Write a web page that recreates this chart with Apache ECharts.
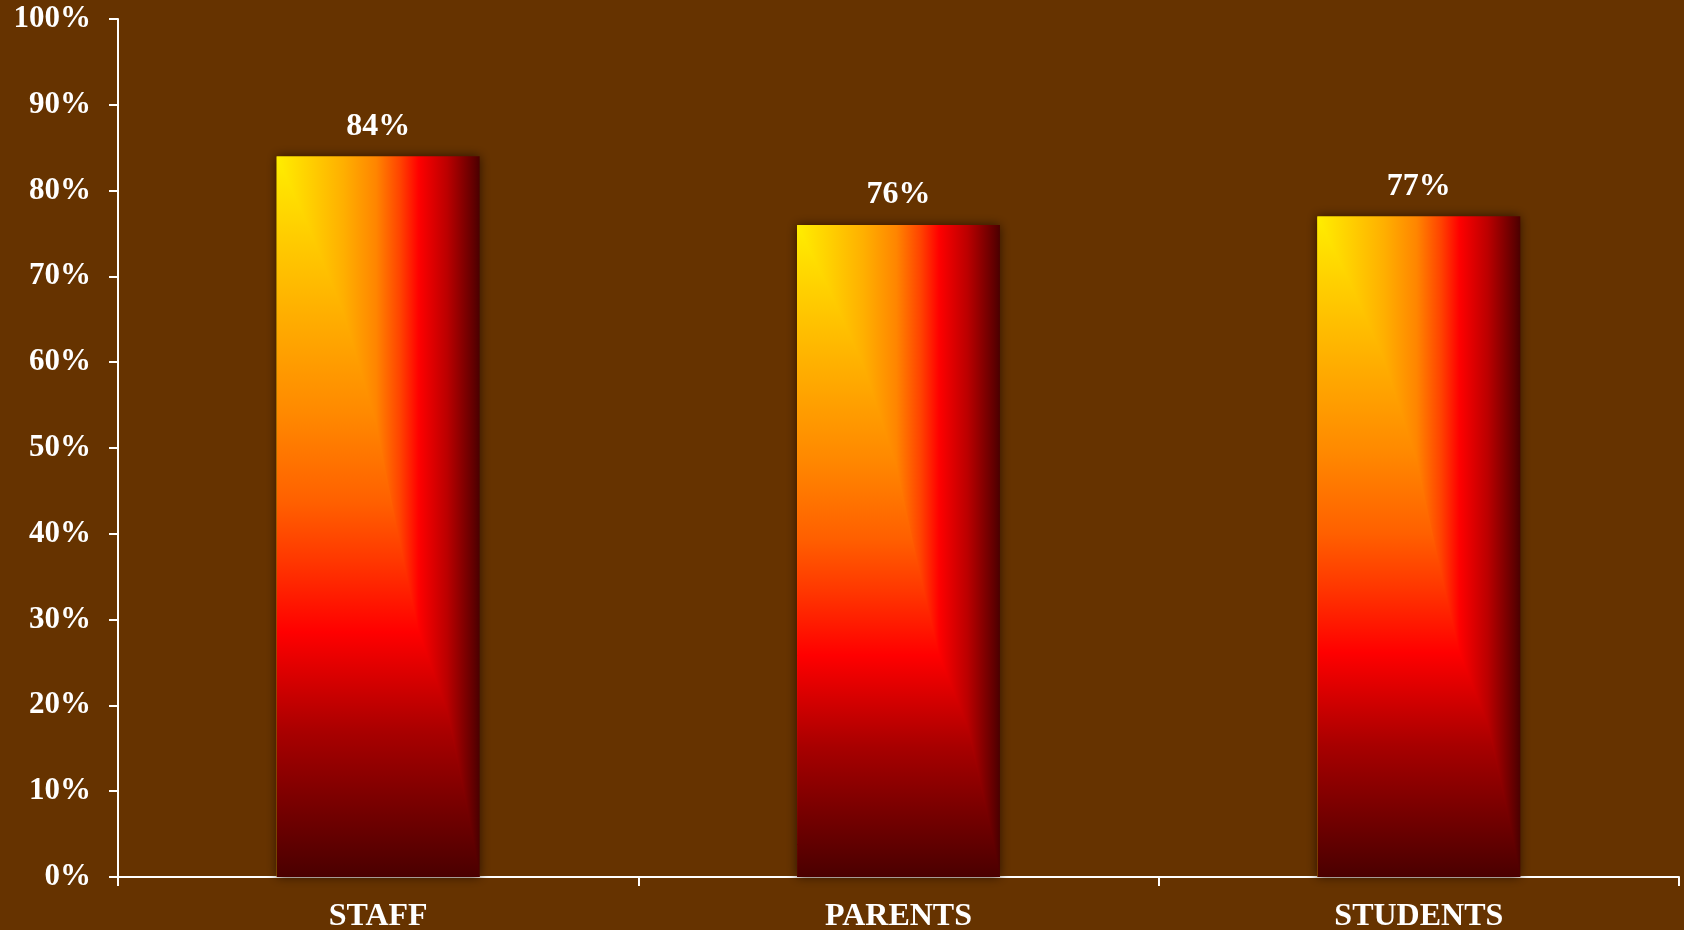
<!DOCTYPE html>
<html>
<head>
<meta charset="utf-8">
<script src="https://cdn.jsdelivr.net/npm/echarts@6/dist/echarts.min.js"></script>
<style>
html,body{margin:0;padding:0;background:#663300;}
#c{width:1684px;height:930px;}
</style>
</head>
<body>
<div id="c"></div>
<script>
const categories = ['STAFF', 'PARENTS', 'STUDENTS'];
const values = [84, 76, 77];
const yTicks = [0, 10, 20, 30, 40, 50, 60, 70, 80, 90, 100];

const font = '"Liberation Serif", "Times New Roman", serif';
const chart = echarts.init(document.getElementById('c'));

// "fire" colour ramp, t from 0 (top/left) to 1
const rampStops = [
  [0, '#ffee00'], [0.1, '#ffd000'], [0.2, '#ffb400'], [0.36, '#ff8800'],
  [0.48, '#ff6000'], [0.56, '#ff3800'], [0.66, '#ff0000'], [0.8, '#a80000'],
  [0.9, '#780000'], [1, '#4a0000']
];
// horizontal profile: fraction across bar -> ramp position
const hProfile = [
  [0, 0], [0.16, 0.1], [0.33, 0.22], [0.49, 0.37], [0.61, 0.54],
  [0.7, 0.66], [0.84, 0.77], [0.97, 0.95], [1, 1]
];
function rampColor(t) {
  for (let i = 1; i < rampStops.length; i++) {
    if (t <= rampStops[i][0]) {
      const a = rampStops[i - 1], b = rampStops[i];
      const f = (t - a[0]) / (b[0] - a[0]);
      const ca = echarts.color.parse(a[1]), cb = echarts.color.parse(b[1]);
      return echarts.color.stringify([0, 1, 2].map(k => Math.round(ca[k] + (cb[k] - ca[k]) * f)).concat(1), 'rgba');
    }
  }
  return rampStops[rampStops.length - 1][1];
}
function hGrad() {
  return new echarts.graphic.LinearGradient(0, 0, 1, 0,
    hProfile.map(p => ({offset: p[0], color: rampColor(p[1])})));
}
function vGrad() {
  return new echarts.graphic.LinearGradient(0, 0, 0, 1,
    rampStops.map(s => ({offset: s[0], color: s[1]})));
}

const BAR_FRAC = 0.39;

chart.setOption({
  backgroundColor: '#663300',
  animation: false,
  grid: {left: 118, right: 5, top: 19, bottom: 53, containLabel: false, outerBoundsMode: 'none'},
  xAxis: {
    type: 'category',
    data: categories,
    axisLine: {lineStyle: {color: '#ffffff', width: 2}},
    axisTick: {show: true, inside: false, length: 9, lineStyle: {color: '#ffffff', width: 2}},
    axisLabel: {color: '#ffffff', fontFamily: font, fontWeight: 'bold', fontSize: 32, margin: 24}
  },
  yAxis: {
    type: 'value',
    min: yTicks[0],
    max: yTicks[yTicks.length - 1],
    interval: yTicks[1] - yTicks[0],
    axisLine: {show: true, lineStyle: {color: '#ffffff', width: 2}},
    axisTick: {show: true, inside: false, length: 9, lineStyle: {color: '#ffffff', width: 2}},
    splitLine: {show: false},
    axisLabel: {color: '#ffffff', fontFamily: font, fontWeight: 'bold', fontSize: 31, margin: 27, formatter: '{value}%'}
  },
  series: [
    {
      type: 'custom',
      data: values.map((v, i) => [i, v]),
      encode: {x: 0, y: 1},
      z: 2,
      renderItem: function (params, api) {
        const idx = api.value(0), val = api.value(1);
        const top = api.coord([idx, val]);
        const base = api.coord([idx, 0]);
        const band = api.size([1, 0])[0];
        const w = band * BAR_FRAC;
        const x0 = top[0] - w / 2, yT = top[1], h = base[1] - top[1];
        const pts = hProfile.map(p => [x0 + p[0] * w, yT + p[1] * h]);
        pts.push([x0, yT + h]);
        return {
          type: 'group',
          children: [
            {type: 'rect', shape: {x: x0, y: yT, width: w, height: h},
             style: {fill: hGrad(), shadowBlur: 10, shadowColor: 'rgba(40,15,0,0.9)'}},
            {type: 'polygon', shape: {points: pts}, style: {fill: vGrad()}}
          ]
        };
      }
    },
    {
      type: 'bar',
      data: values,
      barWidth: (BAR_FRAC * 100) + '%',
      itemStyle: {color: 'rgba(0,0,0,0)'},
      label: {show: true, position: 'top', distance: 14, color: '#ffffff', fontFamily: font, fontWeight: 'bold', fontSize: 32, formatter: '{c}%'},
      z: 3
    }
  ]
});
</script>
</body>
</html>
